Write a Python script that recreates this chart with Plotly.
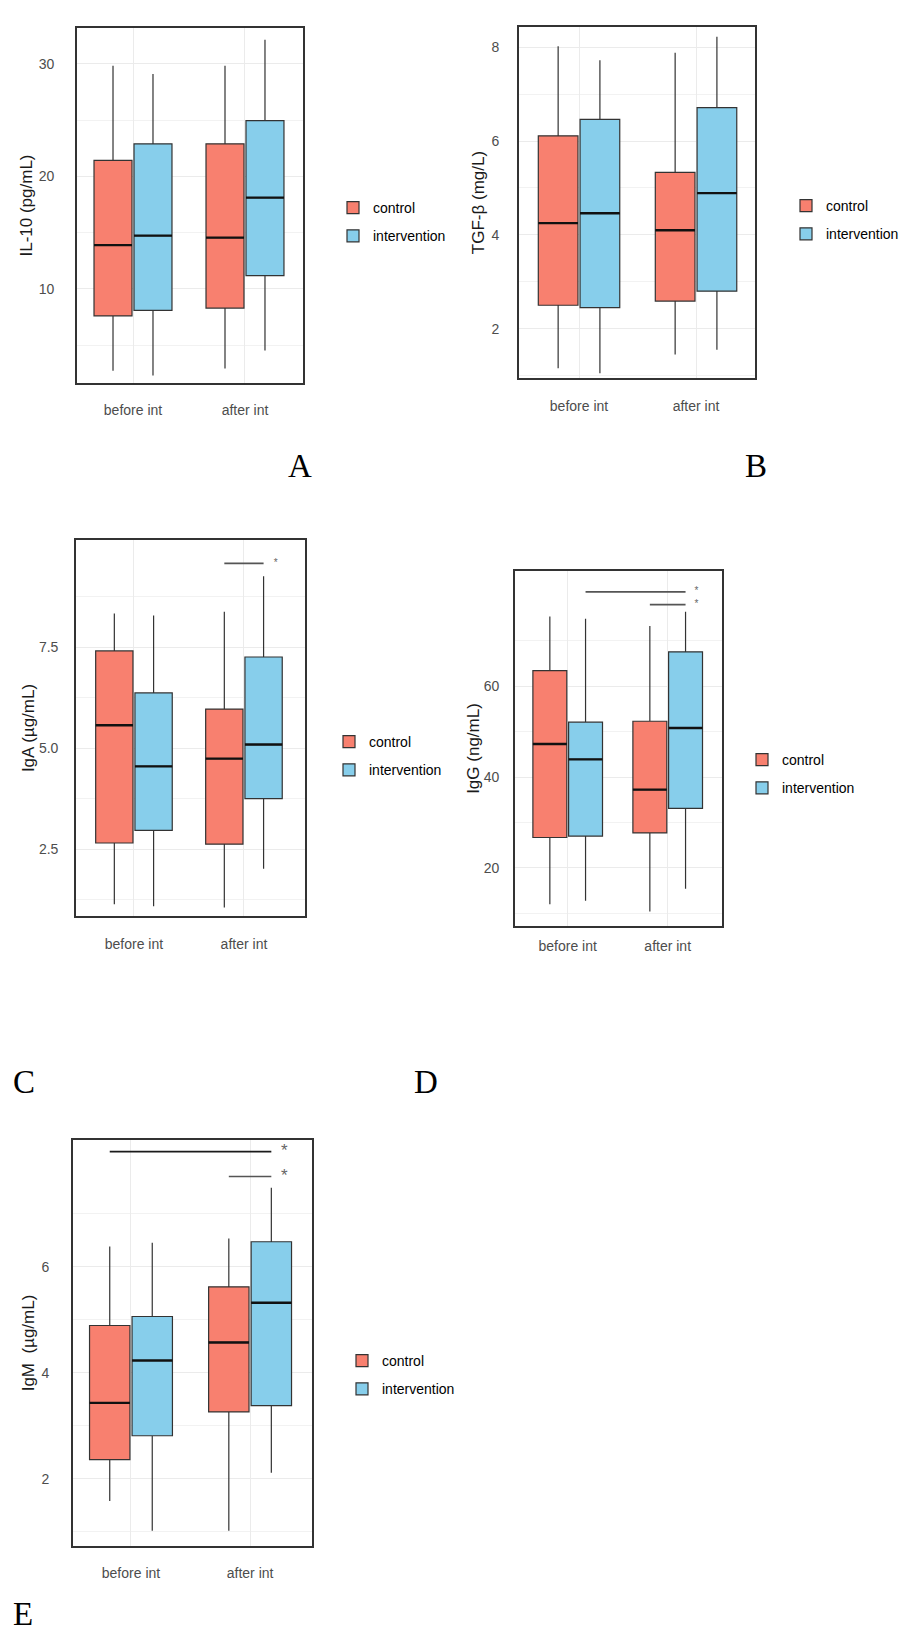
import plotly.graph_objects as go

W, H = 910, 1637

groups = ["before int", "after int"]
series = ["control", "intervention"]
fills = {"control": "#F8806F", "intervention": "#87CEEB"}

# five-number summaries per time point: [lower whisker, q1, median, q3, upper whisker]
il10_control = [[2.74, 7.6, 13.9, 21.44, 29.85], [2.92, 8.3, 14.56, 22.9, 29.85]]
il10_intervention = [[2.3, 8.1, 14.74, 22.9, 29.1], [4.52, 11.18, 18.12, 24.96, 32.16]]

tgfb_control = [[1.16, 2.5, 4.25, 6.11, 8.02], [1.45, 2.59, 4.10, 5.33, 7.88]]
tgfb_intervention = [[1.05, 2.45, 4.46, 6.46, 7.72], [1.55, 2.80, 4.89, 6.71, 8.22]]

iga_control = [[1.13, 2.65, 5.57, 7.41, 8.34], [1.05, 2.62, 4.74, 5.97, 8.38]]
iga_intervention = [[1.08, 2.96, 4.55, 6.37, 8.29], [2.01, 3.75, 5.09, 7.26, 9.26]]

igg_control = [[12.0, 26.7, 47.3, 63.45, 75.4], [10.4, 27.7, 37.25, 52.3, 73.3]]
igg_intervention = [[12.75, 27.0, 43.9, 52.1, 74.9], [15.4, 33.1, 50.8, 67.6, 76.4]]

igm_control = [[1.58, 2.36, 3.43, 4.89, 6.38], [1.02, 3.26, 4.57, 5.62, 6.53]]
igm_intervention = [[1.02, 2.81, 4.23, 5.06, 6.45], [2.11, 3.38, 5.32, 6.47, 7.49]]

# y tick labels (major) and the minor grid values in between
il10_ticks, il10_minor = [10, 20, 30], [5, 15, 25]
tgfb_ticks, tgfb_minor = [2, 4, 6, 8], [1, 3, 5, 7]
iga_ticks, iga_minor = [2.5, 5.0, 7.5], [1.25, 3.75, 6.25, 8.75]
igg_ticks, igg_minor = [20, 40, 60], [10, 30, 50, 70]
igm_ticks, igm_minor = [2, 4, 6], [1, 3, 5, 7]

# significance brackets: (from group index, series), (to group index, series), y level
iga_sig = [((1, "control"), (1, "intervention"), 9.58)]
igg_sig = [((0, "intervention"), (1, "intervention"), 80.8),
           ((1, "control"), (1, "intervention"), 78.0)]
igm_sig = [((0, "control"), (1, "intervention"), 8.17),
           ((1, "control"), (1, "intervention"), 7.70)]

# layout of each panel in pixels: border box, axis ranges, label offsets
panels = [
    dict(title="IL-10 (pg/mL)", data=(il10_control, il10_intervention), sig=[],
         ticks=il10_ticks, minor=il10_minor, fmt="",
         box=(69, 295, 20, 375), xr=(-0.5, 1.518), yr=(1.64, 33.2),
         ystand=18, xstand=13, tstand=2, legend=(367, 214), letter=("A", 292, 458),
         star_size=10, sig_colors=["#555555"]),
    dict(title="TGF-β (mg/L)", data=(tgfb_control, tgfb_intervention), sig=[],
         ticks=tgfb_ticks, minor=tgfb_minor, fmt="",
         box=(511, 747, 19, 370), xr=(-0.513, 1.504), yr=(0.95, 8.43),
         ystand=15, xstand=14, tstand=3, legend=(820, 212), letter=("B", 748, 458),
         star_size=10, sig_colors=["#555555"]),
    dict(title="IgA (µg/mL)", data=(iga_control, iga_intervention), sig=iga_sig,
         ticks=iga_ticks, minor=iga_minor, fmt=".1f",
         box=(68, 297, 532, 908), xr=(-0.527, 1.555), yr=(0.84, 10.16),
         ystand=13, xstand=14, tstand=0, legend=(363, 748), letter=("C", 16, 1074),
         star_size=10, sig_colors=["#555555"]),
    dict(title="IgG (ng/mL)", data=(igg_control, igg_intervention), sig=igg_sig,
         ticks=igg_ticks, minor=igg_minor, fmt="",
         box=(507, 714, 563, 918), xr=(-0.527, 1.543), yr=(7.2, 85.4),
         ystand=11, xstand=6, tstand=0, legend=(776, 766), letter=("D", 418, 1074),
         star_size=10, sig_colors=["#555555", "#555555"]),
    dict(title="IgM  (µg/mL)", data=(igm_control, igm_intervention), sig=igm_sig,
         ticks=igm_ticks, minor=igm_minor, fmt="",
         box=(65, 304, 1132, 1538), xr=(-0.487, 1.52), yr=(0.73, 8.39),
         ystand=19, xstand=13, tstand=3, legend=(376, 1367), letter=("E", 15, 1606),
         star_size=17, sig_colors=["#1A1A1A", "#555555"]),
]

BOXGAP, GROUPGAP = 0.286, 0.05
slot = (1 - BOXGAP) / 2
offset = {"control": -slot / 2, "intervention": slot / 2}
half_w = slot * (1 - GROUPGAP) / 2
FONT = "Liberation Sans, Arial, sans-serif"

fig = go.Figure()
annotations = []

for i, p in enumerate(panels):
    sfx = "" if i == 0 else str(i + 1)
    xa, ya, lg = "x" + sfx, "y" + sfx, "legend" + sfx
    for s, stats in zip(series, p["data"]):
        pos = list(range(len(groups)))
        fig.add_trace(go.Box(
            x=pos, lowerfence=[v[0] for v in stats], q1=[v[1] for v in stats],
            median=[v[2] for v in stats], q3=[v[3] for v in stats],
            upperfence=[v[4] for v in stats],
            name=s, offsetgroup=s, legendgroup=s + sfx, legend=lg,
            fillcolor=fills[s], line=dict(color="#333333", width=1.2),
            whiskerwidth=0, boxpoints=False, xaxis=xa, yaxis=ya, hoverinfo="skip",
        ))
        # thicker median bar as in ggplot
        mx, my = [], []
        for g, v in zip(pos, stats):
            c = g + offset[s]
            mx += [c - half_w, c + half_w, None]
            my += [v[2], v[2], None]
        fig.add_trace(go.Scatter(x=mx, y=my, mode="lines", showlegend=False,
                                 line=dict(color="#111111", width=2.4),
                                 xaxis=xa, yaxis=ya, hoverinfo="skip"))
    for k, ((g0, s0), (g1, s1), lvl) in enumerate(p["sig"]):
        x0, x1 = g0 + offset[s0], g1 + offset[s1]
        fig.add_trace(go.Scatter(x=[x0, x1], y=[lvl, lvl], mode="lines", showlegend=False,
                                 line=dict(color=p["sig_colors"][k], width=1.6),
                                 xaxis=xa, yaxis=ya, hoverinfo="skip"))
        fig.add_trace(go.Scatter(x=[x1 + 0.11], y=[lvl], mode="text", text=["*"],
                                 textposition="middle center", showlegend=False,
                                 textfont=dict(size=p["star_size"], color="#666666", family=FONT),
                                 xaxis=xa, yaxis=ya, hoverinfo="skip"))

    x0, x1, yt, yb = p["box"]
    fig.update_layout({
        "xaxis" + sfx: dict(
            domain=[x0 / W, x1 / W], anchor=ya, range=list(p["xr"]),
            tickvals=list(range(len(groups))), ticktext=groups,
            showgrid=True, gridcolor="#EBEBEB", gridwidth=1, zeroline=False,
            showline=True, mirror=True, linecolor="#333333", linewidth=1.6,
            ticks="", ticklabelstandoff=p["xstand"],
            tickfont=dict(family=FONT, size=14, color="#4D4D4D"),
        ),
        "yaxis" + sfx: dict(
            domain=[1 - yb / H, 1 - yt / H], anchor=xa, range=list(p["yr"]),
            tickmode="array", tickvals=p["ticks"], tickformat=p["fmt"],
            showgrid=True, gridcolor="#EBEBEB", gridwidth=1, zeroline=False,
            minor=dict(tickmode="array", tickvals=p["minor"], showgrid=True,
                       gridcolor="#F2F2F2", gridwidth=1),
            showline=True, mirror=True, linecolor="#333333", linewidth=1.6,
            ticks="", ticklabelstandoff=p["ystand"],
            tickfont=dict(family=FONT, size=14, color="#4D4D4D"),
            title=dict(text=p["title"], standoff=p["tstand"],
                       font=dict(family=FONT, size=17, color="#1A1A1A")),
        ),
        lg: dict(
            x=(p["legend"][0] - 42) / W, y=1 - p["legend"][1] / H,
            xanchor="left", yanchor="middle", tracegroupgap=7,
            bgcolor="rgba(0,0,0,0)", font=dict(family=FONT, size=14, color="black"),
        ),
    })
    letter, lx, ly = p["letter"]
    annotations.append(dict(
        text=letter, x=lx / W, y=1 - ly / H, xref="paper", yref="paper",
        showarrow=False, xanchor="center", yanchor="middle",
        font=dict(family="Liberation Serif, Times New Roman, serif", size=33, color="black"),
    ))

fig.update_layout(
    width=W, height=H, margin=dict(l=0, r=0, t=0, b=0),
    boxmode="group", boxgap=BOXGAP, boxgroupgap=GROUPGAP,
    plot_bgcolor="white", paper_bgcolor="white",
    annotations=annotations,
)

fig.write_html("out.html")
